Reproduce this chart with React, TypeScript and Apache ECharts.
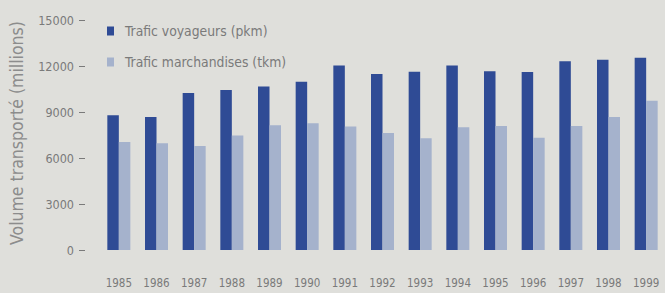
import React, { useEffect, useRef } from "react";
import * as echarts from "echarts";

const years = ["1985", "1986", "1987", "1988", "1989", "1990", "1991", "1992", "1993", "1994", "1995", "1996", "1997", "1998", "1999"];
const voyageurs = [8780, 8670, 10240, 10440, 10670, 10980, 12040, 11480, 11630, 12030, 11660, 11610, 12310, 12400, 12530];
const marchandises = [7040, 6970, 6780, 7470, 8130, 8260, 8060, 7630, 7280, 8000, 8080, 7320, 8080, 8670, 9740];
const seriesNames = ["Trafic voyageurs (pkm)", "Trafic marchandises (tkm)"];
const axisTitle = "Volume transporté (millions)";

const FONT = "'Liberation Sans Narrow', 'Arial Narrow', 'DejaVu Sans Condensed', sans-serif";
const TEXT = "#7a7a7a";

export default function App() {
  const ref = useRef<HTMLDivElement>(null);
  useEffect(() => {
    if (!ref.current) return;
    const chart = echarts.init(ref.current, undefined, { renderer: "svg" });
    chart.setOption({
      animation: false,
      backgroundColor: "#dfdfdb",
      textStyle: { fontFamily: FONT },
      grid: { left: 100, top: 20, width: 570, height: 230 },
      legend: {
        orient: "vertical",
        left: 107,
        top: 24,
        padding: 0,
        itemWidth: 7,
        itemHeight: 9,
        itemGap: 17,
        icon: "rect",
        data: seriesNames,
        textStyle: { color: TEXT, fontSize: 13.8, lineHeight: 14, fontFamily: FONT, padding: [0, 0, 0, 6] },
      },
      xAxis: {
        type: "category",
        data: years,
        axisLine: { show: false },
        axisTick: { show: false },
        axisLabel: { color: TEXT, fontSize: 11.5, margin: 27, interval: 0, fontFamily: FONT },
      },
      yAxis: {
        type: "value",
        min: 0,
        max: 15000,
        interval: 3000,
        offset: 15,
        axisLine: { show: false },
        axisTick: { show: true, length: 6, lineStyle: { color: TEXT, width: 1 } },
        splitLine: { show: false },
        axisLabel: { color: TEXT, fontSize: 12.5, margin: 11, fontFamily: FONT, formatter: (v: number) => String(v) },
      },
      graphic: [
        {
          type: "text",
          x: 17,
          y: 133,
          rotation: Math.PI / 2,
          style: {
            text: axisTitle,
            fill: "#8c8c8c",
            fontSize: 17.5,
            fontFamily: FONT,
            align: "center",
            verticalAlign: "middle",
          },
        },
      ],
      series: [
        {
          name: seriesNames[0],
          type: "bar",
          data: voyageurs,
          barWidth: 11.5,
          barGap: "0%",
          itemStyle: { color: "#2f4b95" },
        },
        {
          name: seriesNames[1],
          type: "bar",
          data: marchandises,
          barWidth: 11.5,
          itemStyle: { color: "#a5b2cc" },
        },
      ],
    });
    return () => chart.dispose();
  }, []);
  return <div ref={ref} style={{ position: "absolute", left: 0, top: 0, width: 665, height: 293 }} />;
}
